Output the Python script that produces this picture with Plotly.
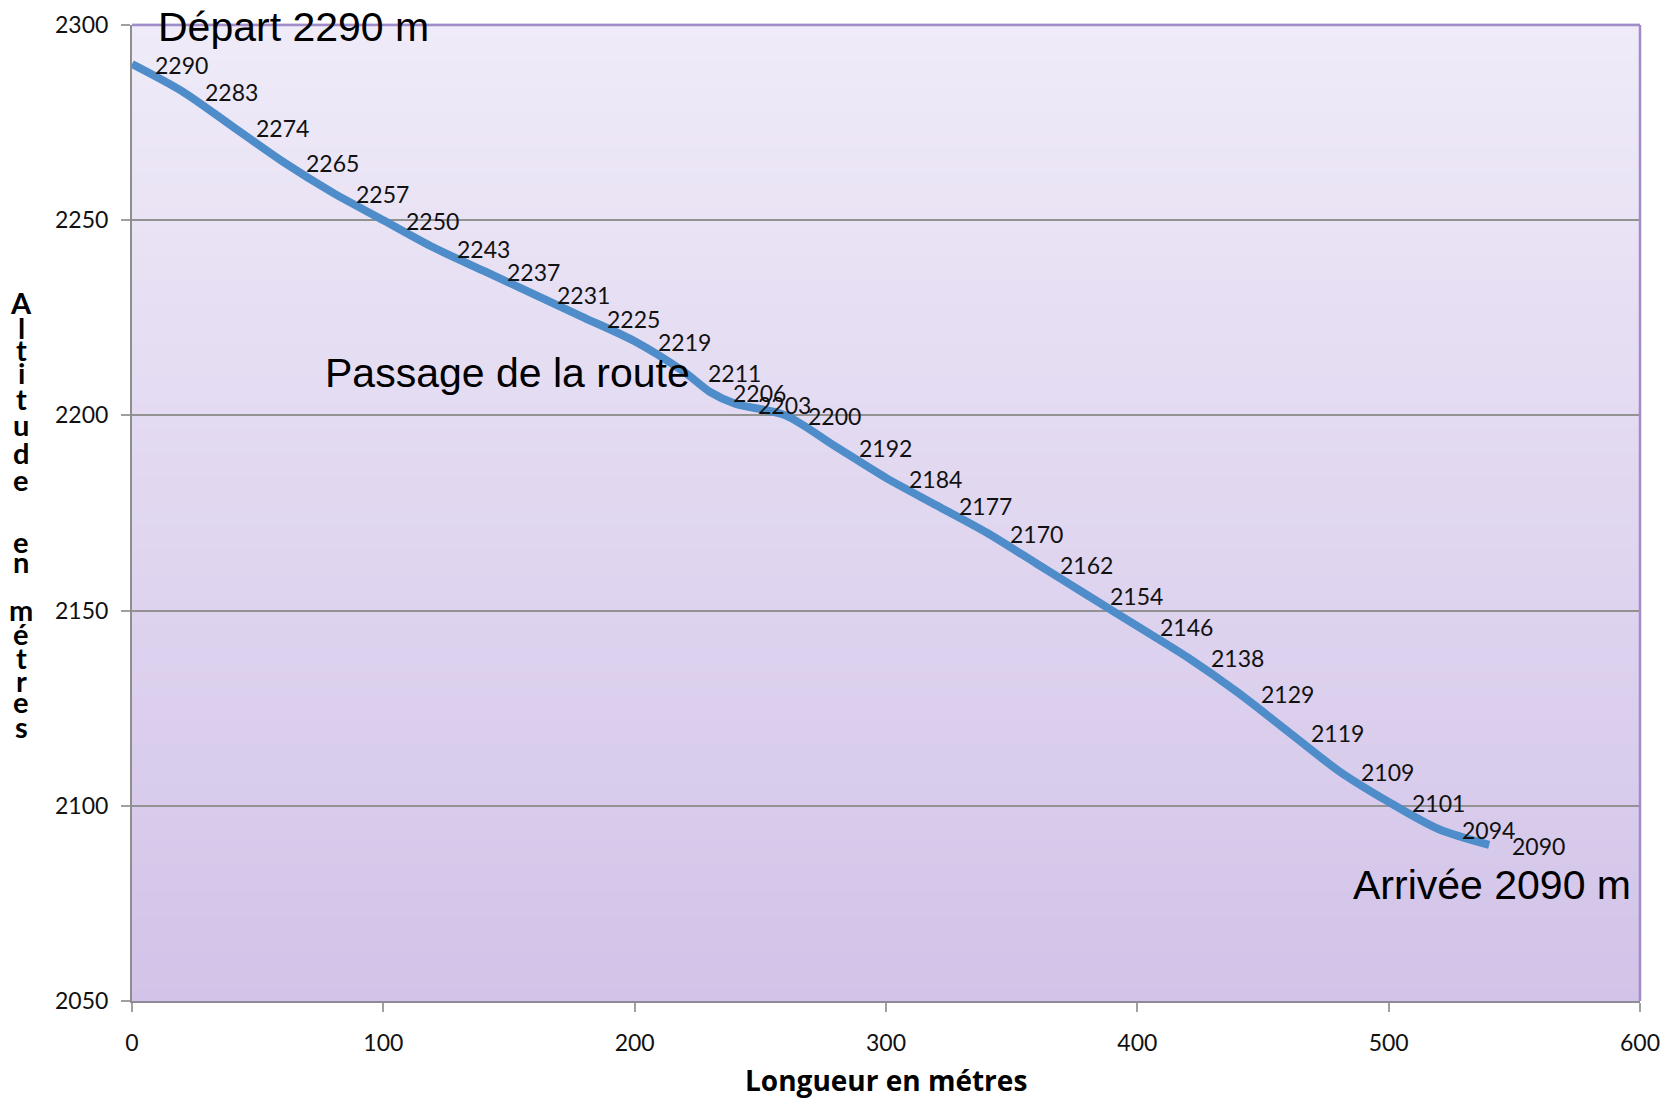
import plotly.graph_objects as go

# ---- data ----
distance_m = [0, 20, 40, 60, 80, 100, 120, 140, 160, 180, 200, 220, 230, 240,
              260, 280, 300, 320, 340, 360, 380, 400, 420, 440, 460, 480, 500, 520, 540]
altitude_m = [2290, 2283, 2274, 2265, 2257, 2250, 2243, 2237, 2231, 2225, 2219, 2211, 2206, 2203,
              2200, 2192, 2184, 2177, 2170, 2162, 2154, 2146, 2138, 2129, 2119, 2109, 2101, 2094, 2090]
x_ticks = [0, 100, 200, 300, 400, 500, 600]
y_ticks = [2050, 2100, 2150, 2200, 2250, 2300]

W, H = 1662, 1100
PL, PR, PT, PB = 132, 1640, 25, 1001          # plot area in page pixels
ML, MR, MT, MB = PL, W - PR, PT, H - PB
PH = PB - PT
PW = PR - PL

LABEL_FONT = "Lato"
fig = go.Figure()

fig.add_trace(go.Scatter(
    x=distance_m, y=altitude_m, mode="lines",
    line=dict(color="#4F8CCA", width=8, shape="spline", smoothing=0.8),
    hoverinfo="x+y", showlegend=False,
))

annotations = []
for d, a in zip(distance_m, altitude_m):
    annotations.append(dict(
        x=d, y=a, xref="x", yref="y", text=str(a), showarrow=False,
        xanchor="left", yanchor="middle", xshift=21, yshift=-1,
        font=dict(family=LABEL_FONT, size=23, color="#111111"),
    ))

big_font = dict(family="Liberation Sans, Arial", size=41, color="#000000")
annotations.append(dict(x=distance_m[0] + 9.4, y=2299.6, xref="x", yref="y",
                        text="Départ 2290 m", showarrow=False,
                        xanchor="left", yanchor="middle", font=big_font))
annotations.append(dict(x=222.7, y=2210.9, xref="x", yref="y",
                        text="Passage de la route", showarrow=False,
                        xanchor="right", yanchor="middle", font=big_font))
annotations.append(dict(x=597.2, y=2079.6, xref="x", yref="y",
                        text="Arrivée 2090 m", showarrow=False,
                        xanchor="right", yanchor="middle", font=big_font))

# x axis title
annotations.append(dict(x=(886 - PL) / PW, y=(PB - 1080) / PH, xref="paper", yref="paper",
                        text="<b>Longueur en métres</b>", showarrow=False,
                        xanchor="center", yanchor="middle",
                        font=dict(family="Open Sans", size=28, color="#000000")))

# stacked y axis title (letters stacked vertically)
title_letters = ["A", "l", "t", "i", "t", "u", "d", "e", "e", "n", "m", "é", "t", "r", "e", "s"]
title_ypx = [302, 327, 350, 372, 398, 424, 452, 479, 541, 562, 609, 633, 657, 680, 702, 726]
for ch, py in zip(title_letters, title_ypx):
    annotations.append(dict(x=(21 - PL) / PW, y=(PB - py) / PH,
                            xref="paper", yref="paper", text="<b>" + ch + "</b>",
                            showarrow=False, xanchor="center", yanchor="middle",
                            font=dict(family="Lato", size=29, color="#000000")))

# gradient background of the plot area
shapes = []
N = 80
top_rgb = (239, 235, 248)
bot_rgb = (210, 195, 232)
for i in range(N):
    t = (i + 0.5) / N
    c = tuple(round(bot_rgb[k] + (top_rgb[k] - bot_rgb[k]) * t) for k in range(3))
    shapes.append(dict(type="rect", xref="x domain", yref="y domain",
                       x0=0, x1=1, y0=i / N, y1=(i + 1) / N + 0.002,
                       fillcolor="rgb(%d,%d,%d)" % c, line=dict(width=0), layer="below"))
# frame
shapes.append(dict(type="line", xref="x domain", yref="y domain", x0=0, x1=1, y0=1, y1=1,
                   line=dict(color="#A08CC8", width=2.5), layer="above"))
shapes.append(dict(type="line", xref="x domain", yref="y domain", x0=1, x1=1, y0=0, y1=1,
                   line=dict(color="#A08CC8", width=2.5), layer="above"))

fig.update_layout(
    width=W, height=H,
    margin=dict(l=ML, r=MR, t=MT, b=MB, autoexpand=False),
    paper_bgcolor="#FFFFFF", plot_bgcolor="rgba(0,0,0,0)",
    annotations=annotations, shapes=shapes, showlegend=False,
)
fig.update_xaxes(
    range=[0, 600], tickvals=x_ticks, showgrid=False, zeroline=False,
    showline=True, linecolor="#8E8A96", linewidth=2, automargin=False,
    ticks="outside", ticklen=9, tickcolor="#A0A0A0", tickwidth=1.5,
    ticklabelstandoff=11, ticklabeloverflow="allow",
    tickfont=dict(family=LABEL_FONT, size=23, color="#111111"),
)
fig.update_yaxes(
    range=[2050, 2300], tickvals=y_ticks, showgrid=True, gridcolor="#929292", gridwidth=1.5,
    zeroline=False, showline=True, linecolor="#8E8E8E", linewidth=2, automargin=False,
    ticks="outside", ticklen=9, tickcolor="#A0A0A0", tickwidth=1.5,
    ticklabelstandoff=8, ticklabeloverflow="allow",
    tickfont=dict(family=LABEL_FONT, size=23, color="#111111"),
)

fig.write_html("out.html", config={"displayModeBar": False},
               post_script="document.body.style.margin='0';")
